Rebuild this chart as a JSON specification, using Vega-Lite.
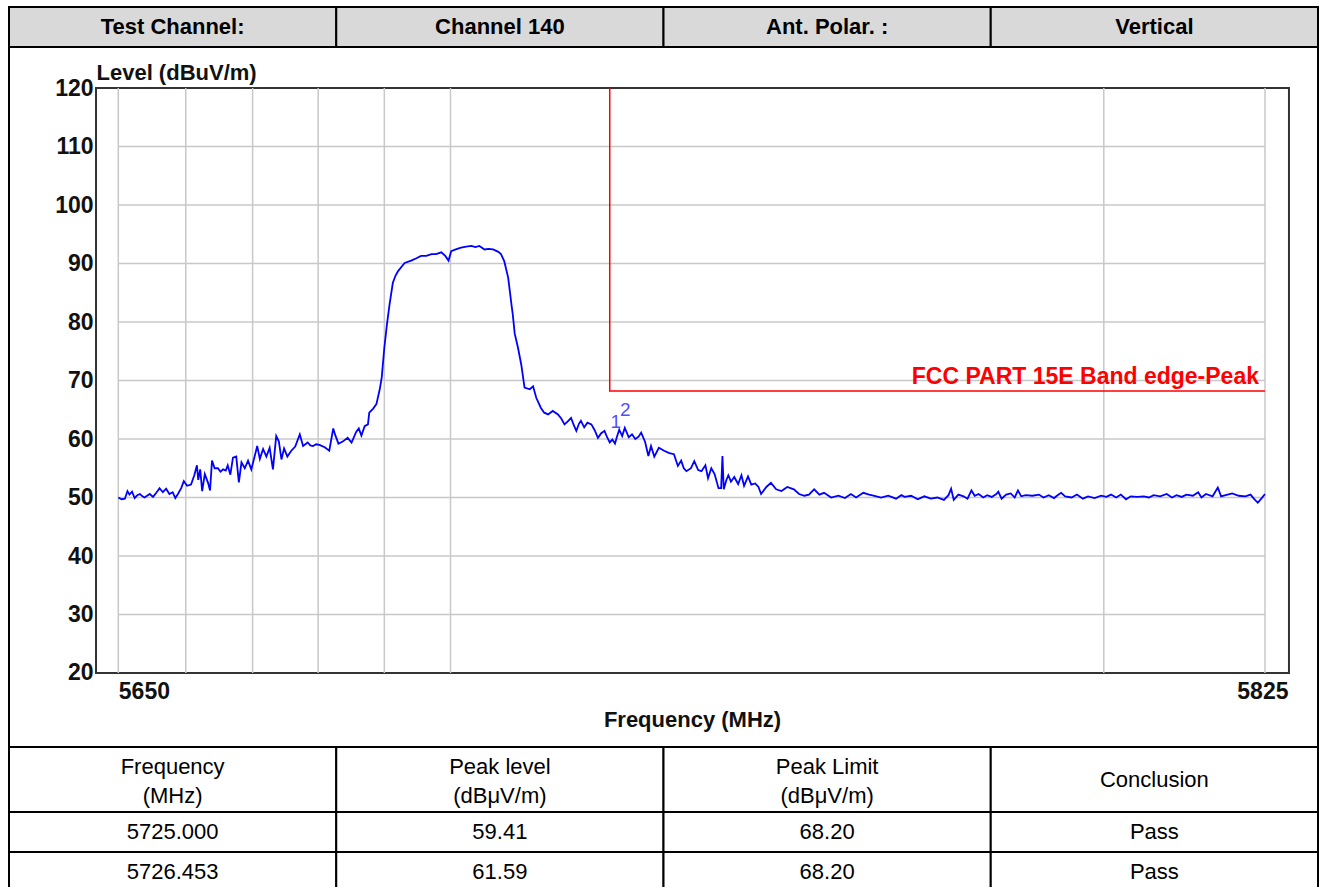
{
  "$schema": "https://vega.github.io/schema/vega-lite/v6.json",
  "padding": {"left": 8, "top": 6, "right": 0, "bottom": 0},
  "background": "white",
  "spacing": 0,
  "bounds": "flush",
  "config": {"font": "Liberation Sans", "view": {"stroke": null}},
  "datasets": {
    "header": [
      {"col": 0, "label": "Test Channel:"},
      {"col": 1, "label": "Channel 140"},
      {"col": 2, "label": "Ant. Polar. :"},
      {"col": 3, "label": "Vertical"}
    ],
    "thead": [
      {"col": 0, "label": "Frequency\n(MHz)", "lines": 2},
      {"col": 1, "label": "Peak level\n(dBμV/m)", "lines": 2},
      {"col": 2, "label": "Peak Limit\n(dBμV/m)", "lines": 2},
      {"col": 3, "label": "Conclusion", "lines": 1}
    ],
    "trows": [
      {"row": 0, "col": 0, "label": "5725.000"},
      {"row": 0, "col": 1, "label": "59.41"},
      {"row": 0, "col": 2, "label": "68.20"},
      {"row": 0, "col": 3, "label": "Pass"},
      {"row": 1, "col": 0, "label": "5726.453"},
      {"row": 1, "col": 1, "label": "61.59"},
      {"row": 1, "col": 2, "label": "68.20"},
      {"row": 1, "col": 3, "label": "Pass"}
    ],
    "gridx": [{"f": 5650}, {"f": 5660.3}, {"f": 5670.5}, {"f": 5680.5}, {"f": 5690.6}, {"f": 5700.7}, {"f": 5800.4}, {"f": 5825}],
    "gridy": [{"v": 30}, {"v": 40}, {"v": 50}, {"v": 60}, {"v": 70}, {"v": 80}, {"v": 90}, {"v": 100}, {"v": 110}],
    "limit": [
      {"f": 5725, "v": 120, "o": 0},
      {"f": 5725, "v": 68.2, "o": 1},
      {"f": 5825, "v": 68.2, "o": 2}
    ],
    "limitLabel": [{"f": 5825, "v": 68.2, "t": "FCC PART 15E Band edge-Peak"}],
    "markers": [
      {"f": 5725.0, "v": 59.41, "m": "1"},
      {"f": 5726.453, "v": 61.59, "m": "2"}
    ],
    "curve": [
      {"f":5650.0,"v":50.0},{"f":5650.5,"v":49.7},{"f":5651.0,"v":49.8},{"f":5651.4,"v":51.1},{"f":5651.7,"v":50.5},
      {"f":5652.1,"v":51.0},{"f":5652.5,"v":49.9},{"f":5652.9,"v":50.4},{"f":5653.3,"v":50.6},{"f":5653.7,"v":50.2},
      {"f":5654.0,"v":50.0},{"f":5654.4,"v":50.3},{"f":5654.8,"v":50.6},{"f":5655.3,"v":50.1},{"f":5655.8,"v":50.8},
      {"f":5656.3,"v":51.6},{"f":5656.8,"v":50.9},{"f":5657.3,"v":51.5},{"f":5657.8,"v":50.6},{"f":5658.3,"v":50.9},
      {"f":5658.7,"v":49.9},{"f":5659.1,"v":50.6},{"f":5659.6,"v":51.6},{"f":5660.0,"v":52.8},{"f":5660.5,"v":52.0},
      {"f":5661.1,"v":52.2},{"f":5661.6,"v":53.8},{"f":5662.0,"v":55.5},{"f":5662.2,"v":53.0},{"f":5662.5,"v":54.8},
      {"f":5662.8,"v":51.1},{"f":5663.2,"v":54.0},{"f":5663.7,"v":52.5},{"f":5664.0,"v":51.2},{"f":5664.3,"v":56.3},
      {"f":5664.7,"v":55.0},{"f":5665.2,"v":55.0},{"f":5665.6,"v":54.4},{"f":5666.0,"v":54.8},{"f":5666.4,"v":54.6},
      {"f":5666.7,"v":55.5},{"f":5667.1,"v":53.9},{"f":5667.5,"v":56.8},{"f":5668.0,"v":57.0},{"f":5668.4,"v":52.6},
      {"f":5668.8,"v":56.0},{"f":5669.3,"v":55.0},{"f":5669.8,"v":56.3},{"f":5670.3,"v":54.8},{"f":5670.8,"v":57.0},
      {"f":5671.2,"v":58.8},{"f":5671.6,"v":56.6},{"f":5672.1,"v":58.3},{"f":5672.6,"v":57.0},{"f":5673.1,"v":58.5},
      {"f":5673.6,"v":54.8},{"f":5674.1,"v":60.5},{"f":5674.5,"v":59.6},{"f":5674.9,"v":56.5},{"f":5675.3,"v":58.4},
      {"f":5675.8,"v":57.0},{"f":5676.4,"v":58.0},{"f":5677.0,"v":58.7},{"f":5677.7,"v":60.8},{"f":5678.2,"v":58.8},
      {"f":5678.9,"v":59.4},{"f":5679.3,"v":58.9},{"f":5679.7,"v":58.8},{"f":5680.2,"v":59.1},{"f":5680.7,"v":59.0},
      {"f":5681.5,"v":58.6},{"f":5682.2,"v":58.0},{"f":5682.8,"v":61.8},{"f":5683.1,"v":60.7},{"f":5683.6,"v":59.2},
      {"f":5684.3,"v":59.6},{"f":5685.0,"v":60.2},{"f":5685.6,"v":59.4},{"f":5686.3,"v":61.2},{"f":5686.7,"v":61.8},
      {"f":5687.1,"v":60.6},{"f":5687.6,"v":62.2},{"f":5688.1,"v":62.5},{"f":5688.3,"v":64.5},{"f":5688.9,"v":65.2},
      {"f":5689.4,"v":66.0},{"f":5689.9,"v":68.5},{"f":5690.2,"v":70.5},{"f":5690.6,"v":75.6},{"f":5691.0,"v":79.6},
      {"f":5691.4,"v":83.0},{"f":5691.9,"v":86.7},{"f":5692.3,"v":87.9},{"f":5692.7,"v":88.7},{"f":5693.2,"v":89.4},
      {"f":5693.7,"v":90.1},{"f":5694.7,"v":90.5},{"f":5695.5,"v":90.9},{"f":5696.2,"v":91.3},{"f":5697.0,"v":91.3},
      {"f":5697.8,"v":91.6},{"f":5698.5,"v":91.6},{"f":5699.3,"v":91.9},{"f":5699.9,"v":91.3},{"f":5700.4,"v":90.5},
      {"f":5700.8,"v":92.1},{"f":5701.5,"v":92.4},{"f":5702.3,"v":92.7},{"f":5703.1,"v":92.9},{"f":5703.9,"v":93.0},
      {"f":5704.5,"v":92.8},{"f":5705.1,"v":93.0},{"f":5705.9,"v":92.4},{"f":5706.5,"v":92.5},{"f":5707.2,"v":92.4},
      {"f":5708.0,"v":92.0},{"f":5708.4,"v":91.6},{"f":5708.9,"v":90.4},{"f":5709.5,"v":87.6},{"f":5710.0,"v":83.0},
      {"f":5710.2,"v":81.3},{"f":5710.5,"v":78.0},{"f":5711.0,"v":75.6},{"f":5711.5,"v":72.7},{"f":5712.0,"v":68.8},
      {"f":5712.8,"v":68.5},{"f":5713.3,"v":69.0},{"f":5713.8,"v":67.0},{"f":5714.5,"v":65.3},{"f":5715.0,"v":64.5},
      {"f":5715.6,"v":64.2},{"f":5716.3,"v":64.8},{"f":5717.1,"v":64.2},{"f":5717.6,"v":63.5},{"f":5718.1,"v":62.5},
      {"f":5718.6,"v":63.0},{"f":5719.1,"v":63.6},{"f":5719.5,"v":62.4},{"f":5719.9,"v":61.4},{"f":5720.3,"v":62.6},
      {"f":5720.6,"v":63.1},{"f":5721.1,"v":62.0},{"f":5721.6,"v":62.8},{"f":5722.2,"v":62.5},{"f":5722.7,"v":61.5},
      {"f":5723.2,"v":60.2},{"f":5723.7,"v":61.0},{"f":5724.2,"v":61.4},{"f":5724.6,"v":60.3},{"f":5725.0,"v":59.41},
      {"f":5725.4,"v":59.9},{"f":5725.8,"v":59.2},{"f":5726.1,"v":60.4},{"f":5726.45,"v":61.59},{"f":5726.9,"v":60.5},
      {"f":5727.3,"v":61.9},{"f":5727.9,"v":60.3},{"f":5728.4,"v":60.8},{"f":5728.9,"v":60.0},{"f":5729.4,"v":60.4},
      {"f":5729.8,"v":61.1},{"f":5730.4,"v":59.5},{"f":5730.9,"v":57.1},{"f":5731.3,"v":58.8},{"f":5731.8,"v":57.0},
      {"f":5732.5,"v":58.5},{"f":5733.3,"v":58.0},{"f":5734.1,"v":57.6},{"f":5734.8,"v":57.4},{"f":5735.4,"v":55.4},
      {"f":5735.9,"v":56.3},{"f":5736.3,"v":55.0},{"f":5736.7,"v":54.5},{"f":5737.4,"v":55.0},{"f":5737.9,"v":56.2},
      {"f":5738.5,"v":54.7},{"f":5739.0,"v":54.5},{"f":5739.6,"v":55.5},{"f":5740.0,"v":53.3},{"f":5740.5,"v":55.0},
      {"f":5741.0,"v":54.0},{"f":5741.6,"v":51.6},{"f":5742.0,"v":51.6},{"f":5742.2,"v":57.1},{"f":5742.4,"v":51.4},
      {"f":5742.8,"v":53.0},{"f":5743.1,"v":53.8},{"f":5743.5,"v":52.7},{"f":5744.0,"v":53.5},{"f":5744.6,"v":52.3},
      {"f":5745.1,"v":53.8},{"f":5745.5,"v":52.0},{"f":5746.1,"v":53.6},{"f":5746.6,"v":52.2},{"f":5747.2,"v":52.4},
      {"f":5747.7,"v":51.8},{"f":5748.1,"v":50.6},{"f":5748.9,"v":51.8},{"f":5749.6,"v":52.5},{"f":5750.4,"v":51.4},
      {"f":5751.2,"v":51.1},{"f":5752.1,"v":51.8},{"f":5753.1,"v":51.4},{"f":5753.9,"v":50.6},{"f":5754.7,"v":50.3},
      {"f":5755.4,"v":50.5},{"f":5756.2,"v":51.4},{"f":5757.0,"v":50.5},{"f":5757.7,"v":50.8},{"f":5758.8,"v":50.0},
      {"f":5759.9,"v":50.3},{"f":5760.9,"v":49.9},{"f":5761.8,"v":50.6},{"f":5762.6,"v":50.0},{"f":5763.7,"v":50.8},
      {"f":5764.6,"v":50.5},{"f":5765.7,"v":50.2},{"f":5766.4,"v":50.0},{"f":5767.5,"v":50.3},{"f":5768.7,"v":49.8},
      {"f":5769.5,"v":50.4},{"f":5770.0,"v":50.1},{"f":5771.0,"v":50.3},{"f":5772.0,"v":49.7},{"f":5773.0,"v":50.2},
      {"f":5774.0,"v":49.8},{"f":5775.0,"v":50.0},{"f":5776.0,"v":49.6},{"f":5776.7,"v":50.4},{"f":5777.1,"v":51.5},
      {"f":5777.5,"v":49.6},{"f":5778.2,"v":50.5},{"f":5779.0,"v":50.2},{"f":5779.6,"v":49.8},{"f":5780.2,"v":51.2},
      {"f":5780.7,"v":50.3},{"f":5781.3,"v":50.6},{"f":5782.0,"v":50.0},{"f":5782.6,"v":50.4},{"f":5783.3,"v":50.1},
      {"f":5784.0,"v":50.6},{"f":5784.3,"v":51.0},{"f":5784.8,"v":49.8},{"f":5785.5,"v":50.5},{"f":5786.2,"v":50.7},
      {"f":5786.8,"v":50.0},{"f":5787.3,"v":51.2},{"f":5787.8,"v":50.2},{"f":5788.5,"v":50.4},{"f":5789.5,"v":50.3},
      {"f":5790.5,"v":50.5},{"f":5791.2,"v":50.0},{"f":5792.0,"v":50.4},{"f":5792.8,"v":49.9},{"f":5793.5,"v":50.5},
      {"f":5793.9,"v":50.8},{"f":5794.5,"v":50.2},{"f":5795.5,"v":50.0},{"f":5796.3,"v":50.5},{"f":5797.2,"v":49.8},
      {"f":5798.0,"v":50.2},{"f":5799.0,"v":49.9},{"f":5800.0,"v":50.3},{"f":5800.8,"v":50.1},{"f":5801.5,"v":50.5},
      {"f":5802.3,"v":50.0},{"f":5803.0,"v":50.5},{"f":5803.8,"v":49.7},{"f":5804.5,"v":50.2},{"f":5805.5,"v":50.1},
      {"f":5806.5,"v":50.2},{"f":5807.3,"v":50.0},{"f":5808.0,"v":50.4},{"f":5809.0,"v":50.2},{"f":5810.0,"v":50.6},
      {"f":5810.8,"v":50.0},{"f":5811.5,"v":50.4},{"f":5812.3,"v":50.1},{"f":5813.0,"v":50.5},{"f":5814.0,"v":50.3},
      {"f":5814.8,"v":50.9},{"f":5815.3,"v":50.0},{"f":5816.0,"v":50.6},{"f":5817.0,"v":50.2},{"f":5817.8,"v":51.7},
      {"f":5818.3,"v":50.2},{"f":5819.0,"v":50.4},{"f":5820.0,"v":50.7},{"f":5821.0,"v":50.3},{"f":5822.0,"v":50.2},
      {"f":5822.8,"v":50.5},{"f":5823.3,"v":49.8},{"f":5823.9,"v":49.1},{"f":5824.5,"v":49.9},{"f":5825.0,"v":50.6}
    ]
  },
  "vconcat": [
    {
      "width": 1309,
      "height": 40,
      "data": {"name": "header"},
      "layer": [
        {
          "mark": {"type": "rect", "fill": "#d9d9d9", "stroke": "black", "strokeWidth": 2},
          "encoding": {
            "x": {"field": "col", "type": "ordinal", "scale": {"paddingInner": 0, "paddingOuter": 0}, "axis": null}
          }
        },
        {
          "mark": {"type": "text", "fontSize": 22, "fontWeight": "bold", "color": "black", "baseline": "middle"},
          "encoding": {
            "x": {"field": "col", "type": "ordinal", "axis": null},
            "text": {"field": "label"}
          }
        }
      ]
    },
    {
      "width": 1309,
      "height": 700,
      "view": {"stroke": "black", "strokeWidth": 2},
      "layer": [
        {
          "data": {"values": [{}]},
          "mark": {"type": "rect", "fill": "white", "stroke": "#333333", "strokeWidth": 2},
          "encoding": {
            "x": {"datum": 5646.6, "type": "quantitative", "scale": {"domain": [5633.32, 5833.09], "nice": false, "zero": false}},
            "x2": {"datum": 5828.66},
            "y": {"datum": 20, "type": "quantitative", "scale": {"domain": [7.35, 127.01], "nice": false, "zero": false}},
            "y2": {"datum": 120}
          }
        },
        {
          "data": {"name": "gridx"},
          "mark": {"type": "rule", "color": "#c8c8c8", "strokeWidth": 1.5},
          "encoding": {
            "x": {"field": "f", "type": "quantitative"},
            "y": {"datum": 20, "type": "quantitative"},
            "y2": {"datum": 120}
          }
        },
        {
          "data": {"name": "gridy"},
          "mark": {"type": "rule", "color": "#c8c8c8", "strokeWidth": 1.5},
          "encoding": {
            "y": {"field": "v", "type": "quantitative"},
            "x": {"datum": 5650, "type": "quantitative"},
            "x2": {"datum": 5825}
          }
        },
        {
          "data": {"name": "limit"},
          "mark": {"type": "line", "color": "#ff0000", "strokeWidth": 1.5},
          "encoding": {
            "x": {"field": "f", "type": "quantitative"},
            "y": {"field": "v", "type": "quantitative"},
            "order": {"field": "o", "type": "quantitative"}
          }
        },
        {
          "data": {"name": "curve"},
          "mark": {"type": "line", "color": "#0000ff", "strokeWidth": 1.8},
          "encoding": {
            "x": {
              "field": "f",
              "type": "quantitative",
              "axis": {
                "values": [5650, 5825],
                "format": "d",
                "grid": false,
                "domain": false,
                "ticks": false,
                "offset": -74,
                "labelPadding": 7,
                "labelFontSize": 23,
                "labelFontWeight": "bold",
                "labelColor": "#111111",
                "labelFlush": false,
                "labelOverlap": false,
                "labelBound": false,
                "labelAlign": {"condition": {"test": "datum.value == 5650", "value": "left"}, "value": "right"},
                "labelOffset": {"condition": {"test": "datum.value == 5825", "value": 23}, "value": 0},
                "title": "Frequency (MHz)",
                "titleFontSize": 22,
                "titleFontWeight": "bold",
                "titleColor": "#111111",
                "titleX": 683,
                "titleY": 46,
                "titleBaseline": "middle",
                "titleAlign": "center"
              }
            },
            "y": {
              "field": "v",
              "type": "quantitative",
              "axis": {
                "values": [20, 30, 40, 50, 60, 70, 80, 90, 100, 110, 120],
                "grid": false,
                "domain": false,
                "ticks": false,
                "offset": -87,
                "labelPadding": 3,
                "labelFontSize": 23,
                "labelFontWeight": "bold",
                "labelColor": "#111111",
                "labelBaseline": "middle",
                "labelOverlap": false,
                "labelBound": false,
                "labelFlush": false,
                "title": "Level (dBuV/m)",
                "titleAngle": 0,
                "titleAlign": "left",
                "titleBaseline": "alphabetic",
                "titleX": 0,
                "titleY": 32,
                "titleFontSize": 22,
                "titleFontWeight": "bold",
                "titleColor": "#111111"
              }
            }
          }
        },
        {
          "data": {"name": "limitLabel"},
          "mark": {"type": "text", "align": "right", "baseline": "alphabetic", "dx": -6, "dy": -7, "fontSize": 23, "fontWeight": "bold", "color": "#ff0000"},
          "encoding": {
            "x": {"field": "f", "type": "quantitative"},
            "y": {"field": "v", "type": "quantitative"},
            "text": {"field": "t"}
          }
        },
        {
          "data": {"name": "markers"},
          "mark": {"type": "text", "align": "center", "baseline": "middle", "dx": 6, "dy": -20, "fontSize": 19, "color": "#5050ff"},
          "encoding": {
            "x": {"field": "f", "type": "quantitative"},
            "y": {"field": "v", "type": "quantitative"},
            "text": {"field": "m"}
          }
        }
      ]
    },
    {
      "width": 1309,
      "height": 65,
      "data": {"name": "thead"},
      "layer": [
        {
          "mark": {"type": "rect", "fill": "white", "stroke": "black", "strokeWidth": 2},
          "encoding": {
            "x": {"field": "col", "type": "ordinal", "scale": {"paddingInner": 0, "paddingOuter": 0}, "axis": null}
          }
        },
        {
          "transform": [{"filter": "datum.lines == 2"}],
          "mark": {"type": "text", "fontSize": 22, "color": "black", "baseline": "middle", "lineBreak": "\n", "lineHeight": 29, "dy": -13},
          "encoding": {
            "x": {"field": "col", "type": "ordinal", "axis": null},
            "text": {"field": "label"}
          }
        },
        {
          "transform": [{"filter": "datum.lines == 1"}],
          "mark": {"type": "text", "fontSize": 22, "color": "black", "baseline": "middle"},
          "encoding": {
            "x": {"field": "col", "type": "ordinal", "axis": null},
            "text": {"field": "label"}
          }
        }
      ]
    },
    {
      "width": 1309,
      "height": 80,
      "data": {"name": "trows"},
      "layer": [
        {
          "mark": {"type": "rect", "fill": "white", "stroke": "black", "strokeWidth": 2},
          "encoding": {
            "x": {"field": "col", "type": "ordinal", "scale": {"paddingInner": 0, "paddingOuter": 0}, "axis": null},
            "y": {"field": "row", "type": "ordinal", "scale": {"paddingInner": 0, "paddingOuter": 0}, "axis": null}
          }
        },
        {
          "mark": {"type": "text", "fontSize": 22, "color": "black", "baseline": "middle"},
          "encoding": {
            "x": {"field": "col", "type": "ordinal", "axis": null},
            "y": {"field": "row", "type": "ordinal", "axis": null},
            "text": {"field": "label"}
          }
        }
      ]
    }
  ]
}
